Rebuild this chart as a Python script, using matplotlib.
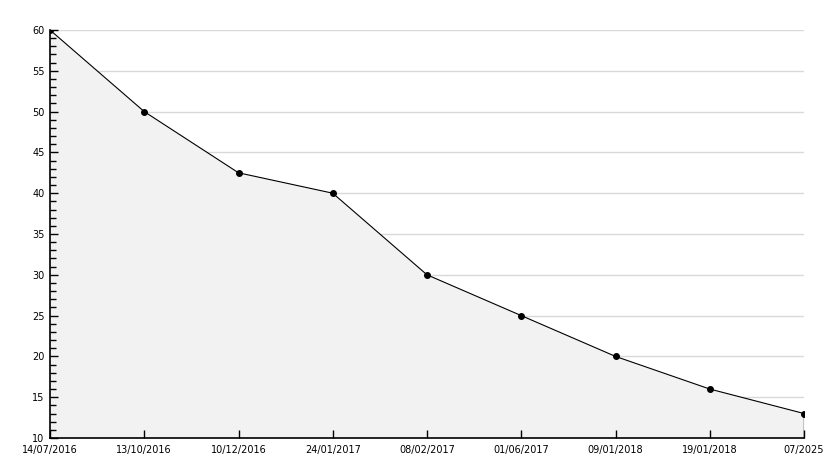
import matplotlib
matplotlib.use("Agg")
import matplotlib.pyplot as plt
from matplotlib.ticker import MultipleLocator

# data
dates = ["14/07/2016", "13/10/2016", "10/12/2016", "24/01/2017", "08/02/2017",
         "01/06/2017", "09/01/2018", "19/01/2018", "07/2025"]
values = [60, 50, 42.5, 40, 30, 25, 20, 16, 13]
y_ticks = list(range(10, 61, 5))

fig = plt.figure(figsize=(8.34, 4.68), dpi=100)
ax = fig.add_axes([50/834, 1-438/468, 754/834, 408/468])

x = list(range(len(dates)))

# area + line
ax.fill_between(x, values, 10, color="#f2f2f2", linewidth=0)
ax.plot(x, values, "-", color="black", linewidth=0.8, marker="o", markersize=4, zorder=3)
ax.plot([x[-1], x[-1]], [10, values[-1]], color="black", linewidth=1, zorder=3)

# grid
for y in y_ticks[1:]:
    ax.axhline(y, color="#d9d9d9", linewidth=1, zorder=0)

# axes
ax.set_xlim(x[0], x[-1])
ax.set_ylim(10, 60)
ax.set_xticks(x)
ax.set_xticklabels(dates)
ax.set_yticks(y_ticks)
ax.yaxis.set_minor_locator(MultipleLocator(1))
ax.tick_params(axis="both", which="both", direction="in", labelsize=7, colors="black")
ax.tick_params(axis="y", which="major", length=6, width=1, pad=4)
ax.tick_params(axis="y", which="minor", length=4, width=1)
ax.tick_params(axis="x", which="major", length=6, width=1, pad=5)

for side in ["top", "right"]:
    ax.spines[side].set_visible(False)
for side in ["left", "bottom"]:
    ax.spines[side].set_linewidth(1.2)
ax.set_facecolor("white")

fig.savefig("out.png", dpi=100)
